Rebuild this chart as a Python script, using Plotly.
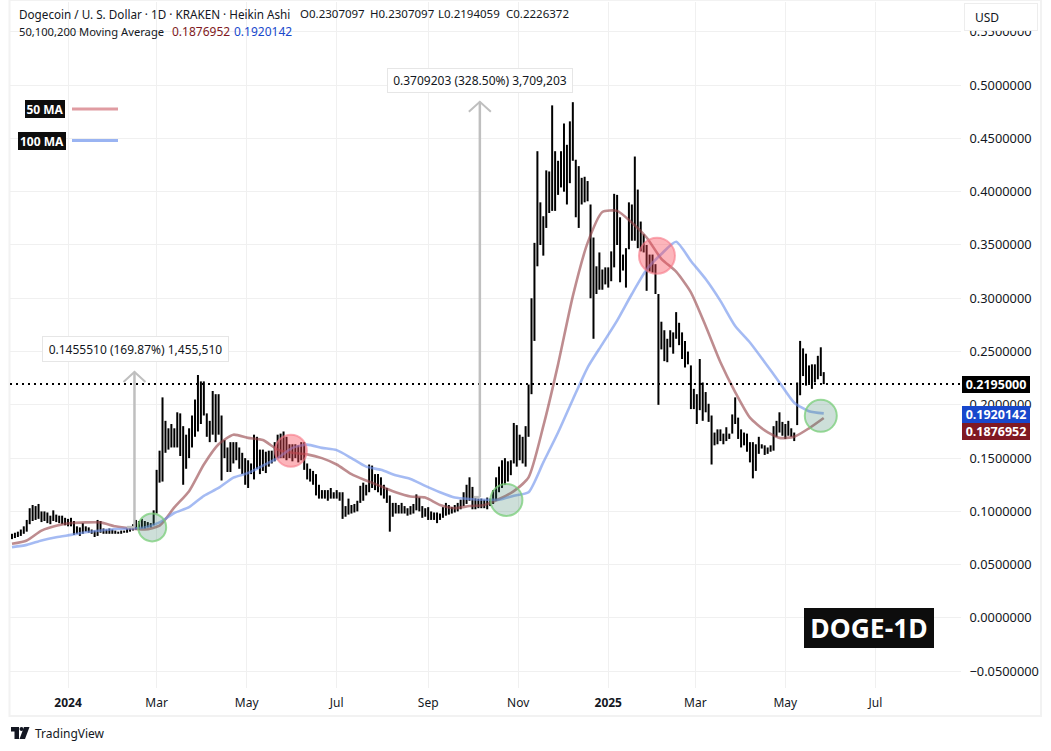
import pandas as pd
import plotly.graph_objects as go

W, H = 1051, 751

bar_high = [
 .079,.080,.081,.083,.086,.092,.103,.106,.105,.107,
 .100,.100,.099,.096,.101,.097,.096,.096,.094,.093,
 .094,.091,.086,.085,.089,.086,.085,.083,.082,.092,
 .091,.084,.083,.084,.083,.082,.081,.082,.082,.084,
 .086,.088,.092,.091,.093,.091,.090,.089,.101,.139,
 .157,.207,.185,.178,.182,.178,.193,.192,.180,.172,
 .178,.190,.205,.228,.222,.222,.192,.185,.213,.210,
 .210,.190,.167,.160,.165,.165,.165,.160,.155,.150,
 .148,.145,.172,.170,.158,.158,.156,.157,.157,.165,
 .172,.173,.175,.170,.163,.163,.163,.162,.165,.165,
 .145,.140,.138,.135,.125,.120,.120,.120,.122,.118,
 .120,.118,.118,.105,.112,.106,.107,.110,.124,.127,
 .125,.144,.143,.135,.135,.132,.125,.122,.115,.108,
 .108,.106,.108,.105,.103,.105,.107,.116,.113,.105,
 .103,.104,.100,.099,.099,.098,.104,.108,.106,.104,
 .106,.108,.111,.118,.125,.132,.123,.113,.112,.112,
 .111,.113,.112,.120,.132,.142,.148,.150,.147,.148,
 .183,.181,.172,.170,.180,.219,.300,.352,.438,.390,
 .377,.420,.419,.481,.438,.429,.438,.464,.444,.466,
 .484,.430,.424,.413,.414,.410,.388,.357,.330,.343,
 .327,.329,.329,.344,.398,.397,.376,.341,.347,.390,
 .388,.433,.402,.372,.360,.350,.341,.341,.332,.304,
 .278,.270,.262,.270,.268,.287,.277,.268,.260,.250,
 .237,.215,.210,.243,.221,.212,.201,.190,.174,.177,
 .177,.173,.179,.173,.191,.207,.188,.177,.174,.173,
 .165,.165,.163,.170,.163,.162,.160,.162,.180,.185,
 .193,.184,.182,.185,.178,.174,.221,.260,.253,.248,
 .237,.238,.238,.246,.254,.2307,
]
bar_low = [
 .074,.075,.076,.077,.079,.081,.088,.091,.092,.093,
 .090,.091,.089,.088,.091,.090,.089,.088,.087,.086,
 .086,.078,.079,.077,.079,.081,.080,.079,.076,.077,
 .080,.079,.079,.079,.079,.079,.079,.079,.080,.080,
 .081,.082,.083,.083,.084,.084,.085,.085,.087,.098,
 .127,.128,.155,.158,.160,.160,.160,.152,.125,.140,
 .150,.160,.170,.175,.182,.190,.170,.165,.172,.165,
 .172,.129,.150,.137,.137,.145,.148,.140,.135,.125,
 .122,.135,.130,.140,.135,.138,.136,.142,.145,.147,
 .150,.150,.150,.148,.150,.147,.150,.146,.148,.139,
 .130,.128,.125,.115,.112,.112,.112,.110,.112,.112,
 .112,.110,.093,.095,.097,.098,.099,.100,.108,.110,
 .115,.118,.122,.120,.118,.115,.112,.108,.081,.095,
 .098,.098,.098,.098,.096,.097,.098,.101,.100,.094,
 .095,.092,.092,.092,.089,.092,.094,.096,.097,.098,
 .099,.100,.102,.105,.107,.110,.102,.102,.103,.103,
 .103,.102,.105,.107,.110,.118,.122,.125,.128,.134,
 .145,.142,.148,.145,.142,.170,.210,.260,.330,.350,
 .340,.366,.380,.382,.382,.397,.404,.400,.388,.408,
 .429,.376,.366,.388,.390,.391,.300,.262,.304,.308,
 .308,.313,.310,.316,.329,.350,.315,.326,.310,.346,
 .354,.354,.347,.344,.343,.307,.325,.324,.304,.200,
 .252,.241,.240,.254,.248,.262,.256,.243,.235,.238,
 .196,.196,.182,.195,.185,.193,.184,.144,.162,.163,
 .166,.163,.166,.168,.173,.182,.168,.160,.162,.156,
 .146,.131,.138,.154,.159,.153,.154,.156,.157,.170,
 .174,.171,.168,.171,.170,.166,.181,.209,.227,.218,
 .220,.215,.221,.224,.227,.2194,
]
ma50 = [.0696,.0727,.082,.0866,.089,.0897,.0897,.086,.084,.083,
        .0866,.1037,.119,.144,.163,.172,.169,.167,.158,.155,
        .1535,.150,.144,.135,.129,.1236,.118,.114,.113,.106,
        .103,.105,.106,.1116,.119,.132,.180,.238,.302,.352,
        .381,.382,.371,.357,.337,.325,.3056,.274,.240,.212,
        .188,.176,.169,.170,.178,.1877]
ma100 = [.0665,.0686,.0727,.0758,.078,.0804,.082,.0835,.084,.085,
         .0897,.0985,.104,.1146,.122,.1317,.136,.143,.150,.1596,
         .1627,.1596,.1575,.150,.142,.139,.134,.1305,.124,.118,
         .113,.1116,.111,.111,.1147,.118,.146,.174,.205,.235,
         .257,.279,.304,.327,.3416,.353,.335,.318,.2975,.274,
         .2585,.240,.221,.202,.194,.1920]
price_ticks = [-.05,0,.05,.10,.15,.20,.25,.30,.35,.40,.45,.50,.55]
month_ticks = ["2024-01-01","2024-03-01","2024-05-01","2024-07-01","2024-09-01","2024-11-01",
               "2025-01-01","2025-03-01","2025-05-01","2025-07-01"]
month_labels = ["<b>2024</b>","Mar","May","Jul","Sep","Nov","<b>2025</b>","Mar","May","Jul"]
bar_dates = pd.date_range("2023-11-24", periods=len(bar_high), freq="2D")
ma_dates = pd.date_range("2023-11-24", periods=len(ma50), freq="10D")
circle_date = ["2024-02-27","2024-05-31","2024-10-24","2025-02-03","2025-05-25"]
circle_val = [.0850,.1569,.1108,.3398,.1897]
circle_r = [14,16,16,18,16]
circle_kind = ["g","r","g","r","g"]
last_price = .2195

FONT = "Noto Sans"
INK = "#131722"
RED_TXT = "#801922"
BLUE_TXT = "#1848cc"
GRID = "#f0f0f0"
ARROW = "#bfbfbf"
px = lambda x: x / W
py = lambda y: 1 - y / H

fig = go.Figure()
fig.add_trace(go.Ohlc(x=bar_dates, open=bar_low, close=bar_high, high=bar_high, low=bar_low,
    tickwidth=0, increasing=dict(line=dict(color="black", width=2)),
    decreasing=dict(line=dict(color="black", width=2)), showlegend=False))
fig.add_trace(go.Scatter(x=ma_dates, y=ma50, mode="lines", showlegend=False,
    line=dict(color="rgba(150,70,75,.62)", width=2.6, shape="spline", smoothing=.6)))
fig.add_trace(go.Scatter(x=ma_dates, y=ma100, mode="lines", showlegend=False,
    line=dict(color="rgba(110,145,235,.62)", width=2.6, shape="spline", smoothing=.6)))

shapes = []
# chart frame
shapes.append(dict(type="rect", xref="paper", yref="paper", x0=px(9.5), x1=px(1041), y0=py(716), y1=py(0),
                   line=dict(color="#f2f2f2", width=2), layer="below"))
# last-price dotted line
shapes.append(dict(type="line", xref="x domain", yref="y", x0=0, x1=1, y0=last_price, y1=last_price,
                   line=dict(color="black", width=2, dash="2px,4px")))
# measuring arrows
for day, start, base, top in [("2024-02-15","2024-02-10",.0853,.2309),("2024-10-06","2024-10-02",.1134,.4843)]:
    shapes.append(dict(type="line", x0=day, x1=day, y0=base, y1=top, line=dict(color=ARROW, width=2.5)))
    shapes.append(dict(type="line", x0=start, x1=day, y0=base, y1=base, line=dict(color=ARROW, width=2.5)))
    shapes.append(dict(type="path", xsizemode="pixel", ysizemode="pixel", xanchor=day, yanchor=top,
                       path="M -11,-10 L 0,0 L 11,-10", line=dict(color=ARROW, width=2), fillcolor="rgba(0,0,0,0)"))
# signal circles
for d, v, r, k in zip(circle_date, circle_val, circle_r, circle_kind):
    fill, edge = (("rgba(60,130,110,.26)", "rgba(120,205,120,.75)") if k == "g"
                  else ("rgba(247,70,85,.40)", "rgba(247,120,135,.6)"))
    shapes.append(dict(type="circle", xsizemode="pixel", ysizemode="pixel", xanchor=d, yanchor=v,
                       x0=-r, x1=r, y0=-r, y1=r, fillcolor=fill, line=dict(color=edge, width=2)))
# MA keys
shapes.append(dict(type="line", xref="paper", yref="paper", x0=px(72), x1=px(118), y0=py(109), y1=py(109),
                   line=dict(color="#e09ca2", width=3)))
shapes.append(dict(type="line", xref="paper", yref="paper", x0=px(72), x1=px(118), y0=py(140.5), y1=py(140.5),
                   line=dict(color="#9ab4f2", width=3)))
# TradingView logo
def poly(pts):
    return "M " + " L ".join(f"{px(a):.5f},{py(b):.5f}" for a, b in pts) + " Z"
shapes.append(dict(type="path", xref="paper", yref="paper", line=dict(width=0), fillcolor="#131722",
                   path=poly([(11,727),(19,727),(19,739),(14.5,739),(14.5,731.5),(11,731.5)])))
shapes.append(dict(type="path", xref="paper", yref="paper", line=dict(width=0), fillcolor="#131722",
                   path=poly([(24,727),(29.5,727),(25,739),(19.5,739)])))
shapes.append(dict(type="circle", xref="paper", yref="paper", line=dict(width=0), fillcolor="#131722",
                   x0=px(19.5), x1=px(23.5), y0=py(731), y1=py(727)))

ann = []
def text(x, y, s, size=12, color=INK, anchor="left", **kw):
    ann.append(dict(xref="paper", yref="paper", x=px(x), y=py(y), text=s, showarrow=False, xanchor=anchor,
                    yanchor="middle", font=dict(family=FONT, size=size, color=color), borderpad=0, **kw))
def box(x0, x1, y0, y1, s, bg, size=12.5, color="white", border=None):
    ann.append(dict(xref="paper", yref="paper", x=px((x0+x1)/2), y=py((y0+y1)/2), text=s, showarrow=False,
                    xanchor="center", yanchor="middle", width=x1-x0, height=y1-y0, bgcolor=bg, borderpad=0,
                    bordercolor=border or bg, borderwidth=1 if border else 0, align="center", valign="middle",
                    font=dict(family=FONT, size=size, color=color)))

text(18, 14, "Dogecoin / U. S. Dollar · 1D · KRAKEN · Heikin Ashi", size=11.7)
text(299, 14, "O0.2307097", size=11.5); text(369, 14, "H0.2307097", size=11.5)
text(437, 14, "L0.2194059", size=11.5); text(505, 14, "C0.2226372", size=11.5)
text(18, 32, "50,100,200 Moving Average", size=11.2)
text(171, 32, "0.1876952", color=RED_TXT); text(233, 32, "0.1920142", color=BLUE_TXT)
box(25, 65, 100, 118, "<b>50 MA</b>", "#0d0d0d", 12)
box(18, 66, 132, 150, "<b>100 MA</b>", "#0d0d0d", 12)
box(43, 228, 337, 361, "0.1455510 (169.87%) 1,455,510", "white", 12, INK, "#e6e6e6")
box(388, 572, 69, 92, "0.3709203 (328.50%) 3,709,203", "white", 12, INK, "#e6e6e6")
box(962, 1030, 376, 393, "<b>0.2195000</b>", "#000000")
box(962, 1030, 406, 423, "<b>0.1920142</b>", BLUE_TXT)
box(962, 1030, 423, 440, "<b>0.1876952</b>", RED_TXT)
box(804, 934, 608, 648, "<b>DOGE-1D</b>", "#0d0d0d", 26.5)
box(965, 1037, 4, 30, " ", "white", 12, INK, "#ededed")
text(974, 17, "USD", size=12)
text(34, 733, "TradingView", size=12)

fig.update_layout(
    width=W, height=H, margin=dict(l=0, r=0, t=0, b=0, pad=0),
    paper_bgcolor="white", plot_bgcolor="white", showlegend=False,
    shapes=shapes, annotations=ann,
    xaxis=dict(domain=[px(10), px(961)], type="date", range=["2023-11-22 16:00", "2025-08-28"],
               rangeslider=dict(visible=False), tickmode="array", tickvals=month_ticks, ticktext=month_labels,
               showgrid=True, gridcolor=GRID, gridwidth=1, zeroline=False, showline=False,
               ticks="outside", ticklen=4, tickcolor="rgba(0,0,0,0)",
               tickfont=dict(family=FONT, size=12, color=INK)),
    yaxis=dict(domain=[py(688), py(2)], side="right", range=[-0.0657, 0.578], tickmode="array",
               tickvals=price_ticks, tickformat=".7f", showgrid=True, gridcolor=GRID, gridwidth=1,
               zeroline=False, showline=False, ticks="outside", ticklen=5, tickcolor="rgba(0,0,0,0)",
               tickfont=dict(family=FONT, size=12.8, color=INK)),
)
fig.write_html("out.html", post_script="document.body.style.margin='0';", config={"displayModeBar": False})
